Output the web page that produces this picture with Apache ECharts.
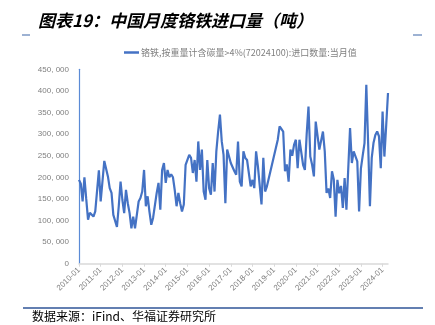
<!DOCTYPE html>
<html>
<head>
<meta charset="utf-8">
<script src="https://cdn.jsdelivr.net/npm/echarts@6/dist/echarts.min.js"></script>
<style>
  html, body { margin: 0; padding: 0; background: #fff; }
  #chart { width: 435px; height: 325px; }
</style>
</head>
<body>
<div id="chart"></div>
<script>
// Monthly ferrochrome imports, 2010-01 .. 2024-04 (tonnes, in thousands below)
const startYear = 2010;
const monthCount = 172;
const seriesName = '铬铁,按重量计含碳量>4%(72024100):进口数量:当月值';

// values in thousand tonnes; null = month not reported
const importsK = [
  194, 185, 144, 200, 150, 102, 118, 121, 109, 121, 121, 216,   // 2010
  144, 142, 238, 220, 202, 175, 164, 113, 109,  85, 133, 190,   // 2011
  148, 117, 171, 140, 117,  82, 109,  82,  86, 144, 152, 167,   // 2012
  217, 133, 156, 120,  90, 106, 110, 164, 187, 125, 217, 233,   // 2013
  187, 217, 200, 207, 200, 170, 133, 164, 140, 121, 137, 229,   // 2014
  226, 252, 245, 210, 240, 190, 283, 217, 264, 167, 148, 240,   // 2015
  175, 160, 233, 167, 260, 306, 345, 283, 252, 140, 264, 260,   // 2016
  233, 237, 214, 206, 283, 190, 179, 260, 245, 240, 240, 179,   // 2017
  194, 175, 260, 226, 226, 137, 245, 167, 179, null, null, null, // 2018
  null, null, 287, 318, 312, 306, 214, 230, 190, 264, 250, 275, // 2019
  287, 221, 287, 291, 229, 217, 300, 364, 248, 229, 202, 329,   // 2020
  333, 264, 260, 306, 260, 164, 174, 152, 214, 195, 109, 194,   // 2021
  163, 180, 129, 198, 125, 129, 314, 233, 260, 260, 237, 121,   // 2022
  220, 250, 279, 414, 280, 133, 245, 280, 298, 306, 295, 221,   // 2023
  352, 248, 320, 395                                            // 2024
];

const yTicks = [0, 50000, 100000, 150000, 200000, 250000, 300000, 350000, 400000, 450000];

const categories = [];
for (let i = 0; i < monthCount; i++) {
  const y = startYear + Math.floor(i / 12);
  const m = (i % 12) + 1;
  categories.push(y + '-' + (m < 10 ? '0' + m : m));
}
const imports = importsK.map(v => v === null ? null : v * 1000);

function fmtThousands(v) {
  if (v === 0) return '0';
  const s = String(v);
  return s.slice(0, s.length - 3) + ', ' + s.slice(s.length - 3);
}

const chart = echarts.init(document.getElementById('chart'), null, { renderer: 'canvas' });
chart.setOption({
  animation: false,
  backgroundColor: '#ffffff',
  title: {
    text: '图表19：中国月度铬铁进口量（吨）',
    left: 33,
    top: 7,
    textStyle: {
      fontFamily: 'Noto Sans CJK SC',
      fontSize: 17,
      fontWeight: 'bold',
      fontStyle: 'italic',
      color: '#000000'
    }
  },
  legend: {
    data: [seriesName],
    left: 119,
    top: 43,
    icon: 'rect',
    itemWidth: 15,
    itemHeight: 2.5,
    itemGap: 2,
    textStyle: {
      fontFamily: 'Noto Sans CJK SC',
      fontSize: 9,
      color: '#808080',
      padding: [0, 0, 0, -3]
    }
  },
  grid: {
    left: 79,
    right: 47,
    top: 69.3,
    bottom: 61.3,
    containLabel: false
  },
  xAxis: {
    type: 'category',
    data: categories,
    boundaryGap: false,
    axisLine: { show: true, lineStyle: { color: '#d9d9d9', width: 1.5 } },
    axisTick: { show: true, interval: 11, length: 3, lineStyle: { color: '#d9d9d9' } },
    axisLabel: {
      interval: 11,
      rotate: 45,
      margin: 5,
      fontFamily: 'Liberation Sans',
      fontSize: 8,
      color: '#7f7f7f'
    },
    splitLine: { show: false }
  },
  yAxis: {
    type: 'value',
    min: yTicks[0],
    max: yTicks[yTicks.length - 1],
    interval: yTicks[1] - yTicks[0],
    axisLine: { show: true, lineStyle: { color: '#5B8BD6', width: 1.2 } },
    axisTick: { show: false },
    axisLabel: {
      margin: 10,
      fontFamily: 'Liberation Sans',
      fontSize: 8,
      color: '#7f7f7f',
      formatter: fmtThousands
    },
    splitLine: { show: false }
  },
  series: [{
    name: seriesName,
    type: 'line',
    data: imports,
    connectNulls: true,
    showSymbol: false,
    symbol: 'none',
    lineStyle: { color: '#4472C4', width: 2.2 },
    itemStyle: { color: '#4472C4' }
  }],
  graphic: [
    { type: 'line', shape: { x1: 22, y1: 35, x2: 30, y2: 35 }, style: { stroke: '#5B7FB5', lineWidth: 1.2 } },
    { type: 'line', shape: { x1: 413, y1: 35, x2: 422, y2: 35 }, style: { stroke: '#5B7FB5', lineWidth: 1.2 } },
    { type: 'line', shape: { x1: 23, y1: 308, x2: 423, y2: 308 }, style: { stroke: '#2F5597', lineWidth: 1.5 } },
    {
      type: 'text',
      left: 32,
      top: 310,
      style: {
        text: '数据来源：iFind、华福证券研究所',
        fontFamily: 'Noto Sans CJK SC',
        fontSize: 12,
        fill: '#000000'
      }
    }
  ]
});
</script>
</body>
</html>
